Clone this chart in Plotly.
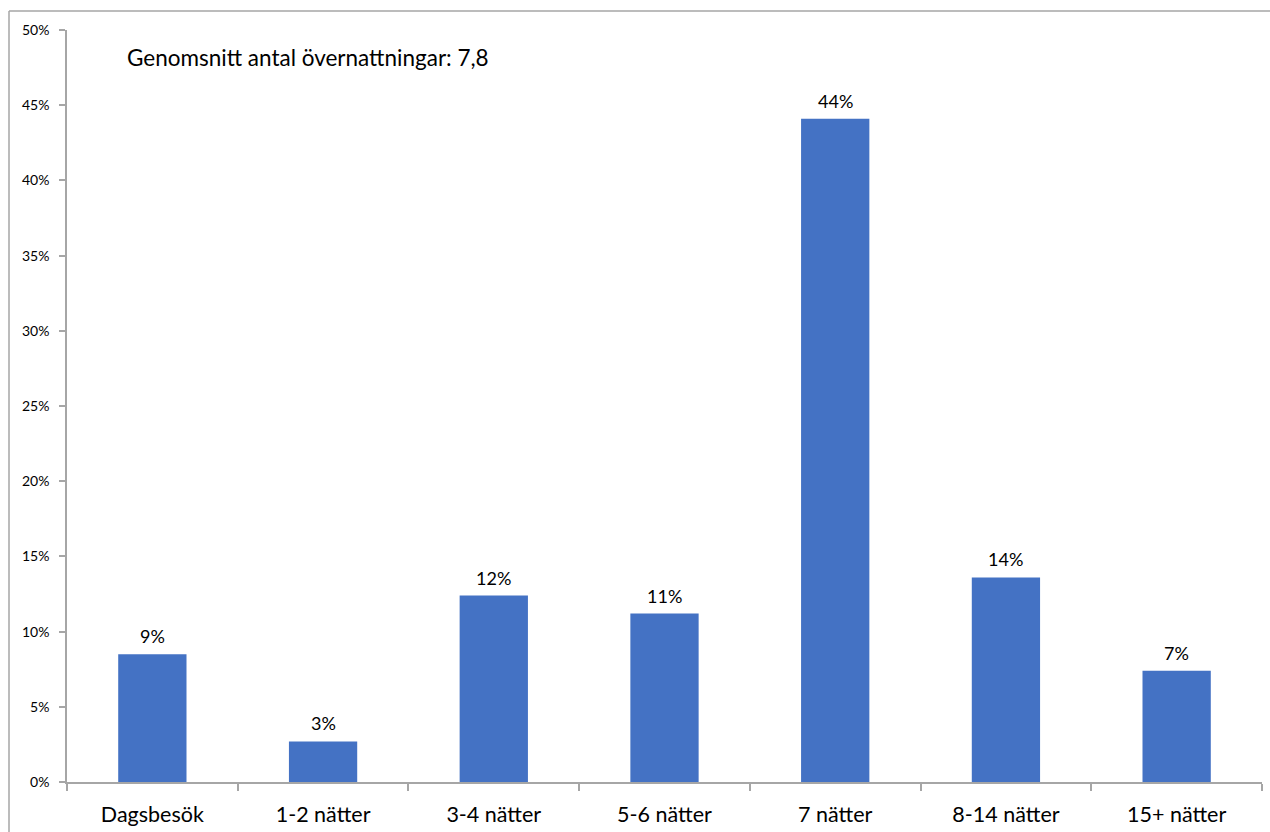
import plotly.graph_objects as go

categories = ["Dagsbesök", "1-2 nätter", "3-4 nätter", "5-6 nätter", "7 nätter", "8-14 nätter", "15+ nätter"]
values = [8.5, 2.7, 12.4, 11.2, 44.1, 13.6, 7.4]
labels = ["9%", "3%", "12%", "11%", "44%", "14%", "7%"]
y_ticks = [0, 5, 10, 15, 20, 25, 30, 35, 40, 45, 50]
y_tick_text = ["0%", "5%", "10%", "15%", "20%", "25%", "30%", "35%", "40%", "45%", "50%"]
note = "Genomsnitt antal övernattningar: 7,8"

FONT = "Lato"
GRAY = "#a6a6a6"

W, H = 1270, 832
L, T, R, B = 67, 30, 8, 50
PW, PH = W - L - R, H - T - B

def px(xfig):
    return (xfig - L) / PW

def py(yfig):
    return (H - B - yfig) / PH

fig = go.Figure()
fig.add_trace(go.Bar(x=categories, y=values, marker_color="#4472C4", marker_line_width=0, hoverinfo="skip"))

annotations = []
for c, v, t in zip(categories, values, labels):
    annotations.append(dict(x=c, y=v, xref="x", yref="y", text=t, showarrow=False,
                            yanchor="bottom", yshift=5, font=dict(family=FONT, size=18, color="#000000")))
annotations.append(dict(x=px(125), y=py(57), xref="paper", yref="paper", text=note, showarrow=False,
                        xanchor="left", yanchor="middle",
                        font=dict(family=FONT, size=22.5, color="#000000")))

fig.update_layout(
    template="none",
    width=W, height=H,
    margin=dict(l=L, r=R, t=T, b=B, autoexpand=False),
    plot_bgcolor="white", paper_bgcolor="white",
    bargap=0.6,
    showlegend=False,
    annotations=annotations,
    shapes=[
        dict(type="line", xref="paper", yref="paper", x0=px(9), x1=px(9), y0=py(840), y1=py(11),
             line=dict(color=GRAY, width=1.5), layer="below"),
        dict(type="line", xref="paper", yref="paper", x0=px(9), x1=px(1280), y0=py(11), y1=py(11),
             line=dict(color=GRAY, width=1.5), layer="below"),
        # white cover to the right of the plot area
        dict(type="rect", xref="paper", yref="paper", x0=px(1263.5), x1=px(1275), y0=py(779), y1=py(13),
             fillcolor="white", line=dict(width=0), layer="above"),
    ],
    xaxis=dict(automargin=False, mirror=False, showline=True, linecolor=GRAY, linewidth=1.5,
               ticks="outside", tickson="boundaries", ticklen=7, tickcolor=GRAY, tickwidth=1.5,
               showgrid=False, zeroline=False,
               tickfont=dict(family=FONT, size=21.5, color="#000000"), ticklabelstandoff=12),
    yaxis=dict(automargin=False, mirror=False, range=[0, 50], tickmode="array", tickvals=y_ticks,
               ticktext=y_tick_text, showline=True, linecolor=GRAY, linewidth=1.5, ticks="outside",
               ticklen=6, tickcolor=GRAY, tickwidth=1.5, showgrid=False, zeroline=False,
               tickfont=dict(family=FONT, size=14, color="#000000"), ticklabelstandoff=7),
)

post = (
    "document.documentElement.style.margin='0';"
    "document.documentElement.style.overflow='hidden';"
    "document.body.style.margin='0';"
    "document.body.style.overflow='hidden';"
)

fig.write_html("out.html", config={"displayModeBar": False}, post_script=post)
